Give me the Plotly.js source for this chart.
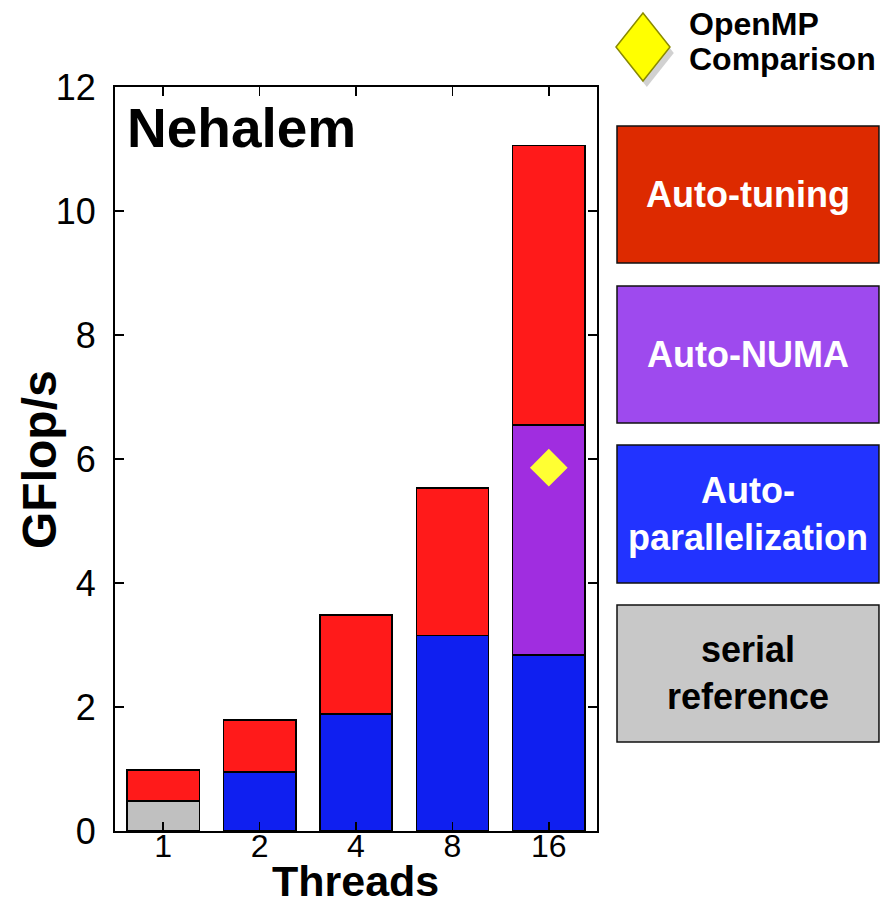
<!DOCTYPE html>
<html>
<head>
<meta charset="utf-8">
<script src="https://cdn.plot.ly/plotly-3.0.1.min.js"></script>
<style>html,body{margin:0;padding:0;background:#fff;}</style>
</head>
<body>
<div id="chart" style="width:896px;height:907px;"></div>
<script>
// ---- data ----
const threads = ['1', '2', '4', '8', '16'];
const serialRef = [0.48, null, null, null, null];
const autoPar   = [null, 0.95, 1.89, 3.15, 2.84];
const autoNuma  = [null, null, null, null, 3.71];
const autoTune  = [0.50, 0.84, 1.59, 2.38, 4.51];
const openmpX = ['16'];
const openmpY = [5.86];
const seriesNames = ['serial<br>reference', 'Auto-<br>parallelization', 'Auto-NUMA', 'Auto-tuning'];
const yTicks = [0, 2, 4, 6, 8, 10, 12];

const FONT = 'Liberation Sans, Arial, Helvetica, sans-serif';
const barColors = ['#C0C0C0', '#0F1FF0', '#A02DE0', '#FF1A1A'];
const boxColors = ['#C8C8C8', '#2233FF', '#9E4AEE', '#DD2A00'];
const boxText = ['#000000', '#FFFFFF', '#FFFFFF', '#FFFFFF'];
const seriesVals = [serialRef, autoPar, autoNuma, autoTune];

const traces = seriesVals.map((v, i) => ({
  type: 'bar', x: threads, y: v, name: seriesNames[i],
  width: 0.75,
  marker: {color: barColors[i], line: {color: '#000', width: 1.5}},
  hoverinfo: 'y'
}));
traces.push({
  type: 'scatter', mode: 'markers', x: openmpX, y: openmpY, name: 'OpenMP Comparison',
  marker: {symbol: 'diamond', size: 29, color: '#FFFF33', line: {width: 0}}
});

// legend boxes (paper coords) bottom->top: serial, par, numa, tuning
const boxY = [[0.1196, 0.3038], [0.3333, 0.5188], [0.5484, 0.7325], [0.7634, 0.9476]];
const shapes = [];
const annotations = [];
boxY.forEach((b, i) => {
  shapes.push({type: 'rect', xref: 'paper', yref: 'paper', x0: 1.0415, x1: 1.585, y0: b[0], y1: b[1],
    fillcolor: boxColors[i], line: {color: '#111', width: 1.5}});
  annotations.push({xref: 'paper', yref: 'paper', x: 1.3133, y: (b[0] + b[1]) / 2,
    text: '<b>' + seriesNames[i] + '</b>', showarrow: false,
    font: {family: FONT, size: 36, color: boxText[i]}, xanchor: 'center', yanchor: 'middle'});
});
// legend diamond with shadow
const cx = 1.0954, cy = 1.0538, hx = 0.056, hy = 0.0457;
const dpath = (ox, oy) => `M ${cx+ox-hx} ${cy+oy} L ${cx+ox} ${cy+oy+hy} L ${cx+ox+hx} ${cy+oy} L ${cx+ox} ${cy+oy-hy} Z`;
shapes.push({type: 'path', xref: 'paper', yref: 'paper', path: dpath(0.008, -0.008),
  fillcolor: 'rgba(0,0,0,0.18)', line: {width: 0}});
shapes.push({type: 'path', xref: 'paper', yref: 'paper', path: dpath(0, 0),
  fillcolor: '#FFFF00', line: {color: '#8A8A00', width: 1.5}});
annotations.push({xref: 'paper', yref: 'paper', x: 1.186, y: 1.0847, xanchor: 'left', yanchor: 'middle',
  text: '<b>OpenMP</b>', showarrow: false, font: {family: FONT, size: 32, color: '#000'}});
annotations.push({xref: 'paper', yref: 'paper', x: 1.186, y: 1.0376, xanchor: 'left', yanchor: 'middle',
  text: '<b>Comparison</b>', showarrow: false, font: {family: FONT, size: 32, color: '#000'}});
annotations.push({xref: 'paper', yref: 'paper', x: 0.02, y: 0.945, xanchor: 'left', yanchor: 'middle',
  text: '<b>Nehalem</b>', showarrow: false, font: {family: FONT, size: 55, color: '#000'}});
// axis titles
annotations.push({xref: 'paper', yref: 'paper', x: 0.498, y: -0.1022, xanchor: 'center', yanchor: 'bottom',
  text: '<b>Threads</b>', showarrow: false, font: {family: FONT, size: 43, color: '#000'}});
annotations.push({xref: 'paper', yref: 'paper', x: -0.1556, y: 0.4987, xanchor: 'center', yanchor: 'middle',
  textangle: -90, text: '<b>GFlop/s</b>', showarrow: false, font: {family: FONT, size: 48, color: '#000'}});

const layout = {
  width: 896, height: 907,
  margin: {l: 115, r: 299, t: 87, b: 76},
  paper_bgcolor: '#fff', plot_bgcolor: '#fff',
  barmode: 'stack', showlegend: false,
  font: {family: FONT, color: '#000'},
  xaxis: {
    type: 'category', range: [-0.5, 4.5],
    showline: true, linecolor: '#000', linewidth: 2, mirror: 'ticks',
    ticks: 'inside', ticklen: 9, tickwidth: 1.5, tickcolor: '#000',
    tickfont: {family: FONT, size: 32, color: '#000'}, ticklabelstandoff: -14,
    showgrid: false, zeroline: false
  },
  yaxis: {
    range: [0, 12], tickvals: yTicks, ticktext: yTicks.map(String),
    showline: true, linecolor: '#000', linewidth: 2, mirror: 'ticks',
    ticks: 'inside', ticklen: 9, tickwidth: 1.5, tickcolor: '#000',
    tickfont: {family: FONT, size: 36, color: '#000'}, ticklabelstandoff: 10,
    showgrid: false, zeroline: false
  },
  shapes: shapes, annotations: annotations
};

Plotly.newPlot('chart', traces, layout, {staticPlot: true, displayModeBar: false});
</script>
</body>
</html>
